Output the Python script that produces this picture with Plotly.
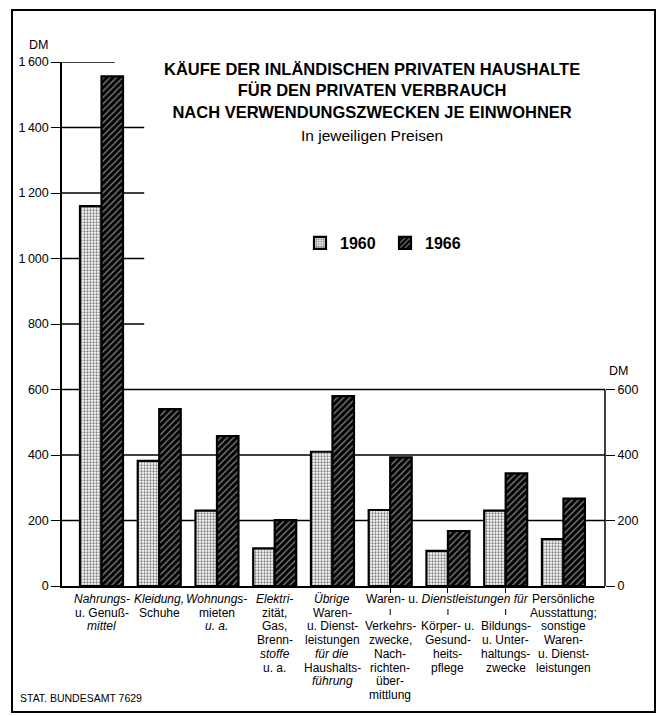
"""
Käufe der inländischen privaten Haushalte je Einwohner, 1960 und 1966
"""

import plotly.graph_objects as go

# Data (DM je Einwohner, in jeweiligen Preisen)
years = ["1960", "1966"]
values_1960 = [1160, 382, 230, 115, 410, 232, 107, 230, 143]
values_1966 = [1556, 540, 458, 201, 580, 393, 168, 344, 267]

# Category labels, one list of lines per bar group
category_lines = [
    ["<i>Nahrungs-</i>", "u. Genuß-", "<i>mittel</i>"],
    ["<i>Kleidung,</i>", "Schuhe"],
    ["<i>Wohnungs-</i>", "mieten", "<i>u. a.</i>"],
    ["<i>Elektri-</i>", "zität,", "Gas,", "Brenn-", "<i>stoffe</i>", "u. a."],
    ["<i>Übrige</i>", "Waren-", "u. Dienst-", "leistungen", "<i>für die</i>",
     "Haushalts-", "<i>führung</i>"],
    ["", "", "Verkehrs-", "zwecke,", "Nach-", "richten-", "über-", "mittlung"],
    ["", "", "Körper- u.", "Gesund-", "heits-", "pflege"],
    ["", "", "Bildungs-", "u. Unter-", "haltungs-", "zwecke"],
    ["Persönliche", "Ausstattung;", "sonstige", "Waren-", "u. Dienst-",
     "leistungen"],
]
group_label = "Waren- u. <i>Dienstleistungen für</i>"
group_members = [5, 6, 7]

left_ticks = [0, 200, 400, 600, 800, 1000, 1200, 1400, 1600]
left_ticktext = ["0", "200", "400", "600", "800", "1\u2009000", "1\u2009200",
                 "1\u2009400", "1\u2009600"]
right_ticks = [0, 200, 400, 600]

TITLE = ("KÄUFE DER INLÄNDISCHEN PRIVATEN HAUSHALTE<br>"
         "FÜR DEN PRIVATEN VERBRAUCH<br>"
         "NACH VERWENDUNGSZWECKEN JE EINWOHNER")
SUBTITLE = "In jeweiligen Preisen"
SOURCE = "STAT. BUNDESAMT 7629"

# Layout constants
W, H = 663, 716
M_L, M_R, M_T, M_B = 62, 58, 62, 130
PLOT_W = W - M_L - M_R
PLOT_H = H - M_T - M_B
FONT = "Liberation Sans, Arial, sans-serif"
LINE_H = 13.7


def px_x(p):
    return (p - M_L) / PLOT_W


def px_y(p):
    return (H - M_B - p) / PLOT_H


def text_at(fig, x, y, text, size, **kw):
    fig.add_annotation(x=px_x(x), y=px_y(y), xref="paper", yref="paper",
                       xanchor=kw.pop("xanchor", "center"), yanchor="middle",
                       text=text, showarrow=False,
                       font=dict(family=FONT, size=size, color="black"), **kw)


def create_chart():
    fig = go.Figure()
    cats = list(range(len(values_1960)))

    # 1960: stippled, 1966: black with fine white diagonal hatching
    fig.add_trace(go.Bar(
        x=cats, y=values_1960, name=years[0],
        marker=dict(color="white",
                    pattern=dict(shape=".", fgcolor="black", bgcolor="white",
                                 size=3, solidity=0.45),
                    line=dict(color="black", width=2.2)),
    ))
    fig.add_trace(go.Bar(
        x=cats, y=values_1966, name=years[1],
        marker=dict(color="black",
                    pattern=dict(shape="/", fgcolor="white", bgcolor="black",
                                 size=4.5, solidity=0.3),
                    line=dict(color="black", width=2.2)),
    ))
    # invisible copy on the right-hand axis so that it gets drawn
    fig.add_trace(go.Scatter(
        x=cats, y=values_1966, yaxis="y2", mode="markers",
        marker=dict(opacity=0), showlegend=False, hoverinfo="skip",
    ))

    # grid: full lines up to 600, short stubs above
    for v in left_ticks[1:]:
        if v <= 600:
            x0, x1, xref = 0, 1, "paper"
        else:
            x0, x1, xref = -0.684, (0.23 if v == 1600 else 0.74), "x"
        fig.add_shape(type="line", xref=xref, yref="y", x0=x0, x1=x1, y0=v, y1=v,
                      line=dict(color="black", width=1.3), layer="below")

    # right axis line only up to 600
    fig.add_shape(type="line", xref="paper", yref="y", x0=1, x1=1,
                  y0=0, y1=right_ticks[-1], line=dict(color="black", width=1.5))

    # outer frame
    fig.add_shape(type="rect", xref="paper", yref="paper",
                  x0=px_x(12), x1=px_x(655), y0=px_y(712), y1=px_y(10),
                  line=dict(color="black", width=2))

    # category labels, line by line
    for i, lines in enumerate(category_lines):
        for k, txt in enumerate(lines):
            if not txt:
                continue
            fig.add_annotation(x=i, xref="x", y=0, yref="paper",
                               xanchor="center", yanchor="middle",
                               yshift=-(13 + k * LINE_H),
                               text=txt, showarrow=False,
                               font=dict(family=FONT, size=12, color="black"))
    fig.add_annotation(x=group_members[1], xref="x", y=0, yref="paper",
                       xanchor="center", yanchor="middle", yshift=-13,
                       text=group_label, showarrow=False,
                       font=dict(family=FONT, size=12, color="black"))
    # small connector marks under the group label
    for i in group_members:
        fig.add_shape(type="line", xref="x", yref="paper", x0=i, x1=i,
                      ysizemode="pixel", yanchor=0, y0=-23, y1=-29,
                      line=dict(color="black", width=1))

    # titles and units
    fig.add_annotation(x=px_x(372), y=px_y(91), xref="paper", yref="paper",
                       xanchor="center", yanchor="middle",
                       text="<b>" + TITLE + "</b>", showarrow=False,
                       font=dict(family=FONT, size=16.5, color="black"))
    text_at(fig, 372, 135, SUBTITLE, 15.5)
    text_at(fig, 38, 45, "DM", 12.5)
    text_at(fig, 618, 371, "DM", 12.5)
    text_at(fig, 18, 698, SOURCE, 10.5, xanchor="left")

    fig.update_xaxes(
        range=[-0.684, 8.72], showline=True, linecolor="black", linewidth=1.5,
        tickvals=group_members, ticks="outside", ticklen=5, tickcolor="black",
        showticklabels=False, showgrid=False, zeroline=False, fixedrange=True,
    )
    fig.update_yaxes(
        range=[0, 1600], tickvals=left_ticks, ticktext=left_ticktext,
        showline=True, linecolor="black", linewidth=1.5,
        ticks="outside", ticklen=9, tickcolor="black", tickwidth=1.3,
        showgrid=False, zeroline=False,
        tickfont=dict(family=FONT, size=12.5, color="black"),
    )

    fig.update_layout(
        yaxis2=dict(
            overlaying="y", side="right", range=[0, 1600], tickvals=right_ticks,
            ticks="outside", ticklen=9, tickcolor="black", tickwidth=1.3,
            showline=False, showgrid=False, zeroline=False,
            tickfont=dict(family=FONT, size=12.5, color="black"),
        ),
        width=W, height=H,
        margin=dict(l=M_L, r=M_R, t=M_T, b=M_B, autoexpand=False),
        barmode="group", bargap=0.255, bargroupgap=0,
        plot_bgcolor="white", paper_bgcolor="white",
        showlegend=True,
        legend=dict(orientation="h", x=px_x(300), y=px_y(226),
                    xanchor="left", yanchor="top",
                    font=dict(family=FONT, size=16, color="black", weight="bold"),
                    entrywidth=40, bgcolor="rgba(0,0,0,0)"),
        font=dict(family=FONT, color="black"),
    )
    return fig


if __name__ == "__main__":
    fig = create_chart()
    fig.write_html("out.html", config={"displayModeBar": False},
                   post_script="document.body.style.margin='0';")
